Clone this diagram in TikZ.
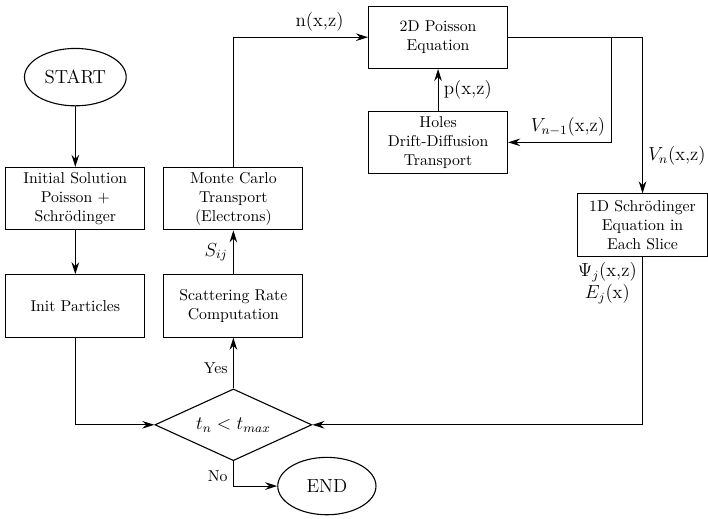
\documentclass[tikz,border=0pt]{standalone}
\usetikzlibrary{shapes.geometric,arrows.meta,positioning}
\tikzset{
  proc/.style={rectangle, draw, line width=0.7pt, minimum width=30.5mm, minimum height=13.9mm,
    text width=29mm, align=center, inner sep=1mm},
  term/.style={ellipse, draw, line width=0.7pt, minimum width=21.9mm, minimum height=12.8mm,
    font=\large},
  cond/.style={diamond, aspect=2.2, draw, line width=0.7pt, minimum width=35mm, minimum height=16mm,
    inner sep=0pt, font=\large},
  farr/.style={-{Stealth[length=2.7mm, width=1.7mm, inset=0.9mm]}, line width=0.7pt},
  lbl/.style={font=\large},
}

\begin{document}
\begin{tikzpicture}
    \useasboundingbox (0,0) rectangle (157.9mm,-115.7mm);
    \node[term](start) at (16.8mm,-17.2mm){START};
    \node[proc,below=13.5mm of start](init){Initial Solution\\ Poisson +\\ Schr\"odinger};
    \node[proc,below=9.8mm of init](part){Init Particles};
    \node[proc,right=4mm of init](mc){Monte Carlo\\ Transport\\ (Electrons)};
    \node[proc,below=9.8mm of mc](scat){Scattering Rate\\ Computation};
    \node[cond,below=11.3mm of scat](dec){$t_n < t_{max}$};
    \node[term](stop) at (72.9mm,-108.4mm){END};
    \node[proc](pois) at (97.7mm,-8.3mm){2D Poisson\\ Equation};
    \node[proc,below=9.3mm of pois](holes){Holes\\ Drift-Diffusion\\ Transport};
    \node[proc,minimum width=29mm,text width=27mm](schr) at (143.3mm,-50.2mm){1D Schr\"odinger\\ Equation in\\ Each Slice};
    \coordinate[right=23mm of pois.east](tap);
    \draw[farr](start)--(init);\draw[farr](init)--(part);
    \draw[farr](part.south) |- (dec.west);
    \draw[farr](dec.north) -- node[left,pos=0.4]{Yes} (scat.south);
    \draw[farr](scat) -- node[left,lbl]{$S_{ij}$} (mc);
    \draw[farr](mc.north) |- node[above,pos=0.82,lbl]{n(x,z)} (pois.west);
    \draw[farr](holes) -- node[right,lbl]{p(x,z)} (pois);
    \draw[farr](pois.east) -| node[right,pos=0.88,lbl]{$V_n$(x,z)} (schr.north);
    \draw[farr](tap) |- node[above,pos=0.71,lbl]{$V_{n-1}$(x,z)} (holes.east);
    \draw[farr](schr.south) node[below left,align=center,lbl]{$\Psi_j$(x,z)\\ $E_j$(x)} |- (dec.east);
    \draw[farr](dec.south) |- node[left,pos=0.3]{No} (stop.west);
  \end{tikzpicture}
\end{document}
